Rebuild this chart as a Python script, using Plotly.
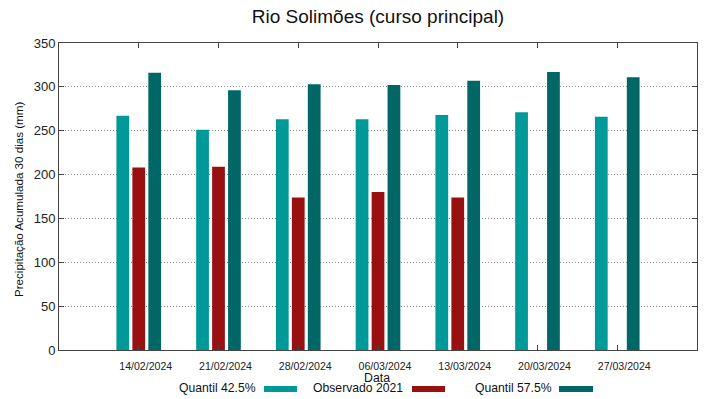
import plotly.graph_objects as go

dates = ["14/02/2024", "21/02/2024", "28/02/2024", "06/03/2024",
         "13/03/2024", "20/03/2024", "27/03/2024"]
q425 = [267, 251, 263, 263, 268, 271, 266]
obs2021 = [208, 209, 174, 180, 174, None, None]
q575 = [316, 296, 303, 302, 307, 317, 311]

names = ["Quantil 42.5%", "Observado 2021", "Quantil 57.5%"]
colors = ["#009999", "#991010", "#006666"]
series = [q425, obs2021, q575]
offsets = [-0.28, -0.08, 0.12]

W, H = 719, 399
L, R, T, B = 59, 22, 43, 49
PW, PH = W - L - R, H - T - B


def px(x):
    return (x - L) / PW


def py(y):
    return (T + PH - y) / PH


xs = list(range(len(dates)))
fig = go.Figure()
for name, col, vals, off in zip(names, colors, series, offsets):
    fig.add_trace(go.Bar(x=xs, y=vals, name=name, width=0.16, offset=off,
                         marker=dict(color=col, line=dict(width=0)),
                         showlegend=False))

fig.update_layout(
    width=W, height=H,
    margin=dict(l=L, r=R, t=T, b=B, autoexpand=False),
    plot_bgcolor="white", paper_bgcolor="white",
    font=dict(family="Liberation Sans, Arial, sans-serif", color="#222"),
    title=dict(text="Rio Solimões (curso principal)", x=0.5, xref="paper",
               xanchor="center", yref="container", y=1 - 16 / H,
               yanchor="middle", font=dict(size=19, color="#111")),
    barmode="overlay",
    xaxis=dict(range=[-1, 7], tickvals=xs, ticktext=dates, automargin=False,
               tickfont=dict(size=10.6), showgrid=False, zeroline=False,
               showline=True, linecolor="#444", linewidth=1, mirror="ticks",
               ticks="inside", ticklen=5, tickcolor="#444",
               ticklabelshift=7, ticklabelstandoff=6),
    yaxis=dict(range=[0, 350], tickvals=[0, 50, 100, 150, 200, 250, 300, 350],
               automargin=False,
               tickfont=dict(size=13), showgrid=True, gridcolor="#888",
               griddash="1px,2px", gridwidth=1, zeroline=False,
               showline=True, linecolor="#444", linewidth=1, mirror="ticks",
               ticks="inside", ticklen=5, tickcolor="#444"),
)

# axis titles placed as in the reference
fig.add_annotation(x=px(377), y=py(378), xref="paper", yref="paper",
                   text="Data", showarrow=False, xanchor="center",
                   yanchor="middle", font=dict(size=12.3, color="#111"))
fig.add_annotation(x=px(18), y=py(200), xref="paper", yref="paper",
                   text="Precipitação Acumulada 30 dias (mm)", textangle=-90,
                   showarrow=False, xanchor="center", yanchor="middle",
                   font=dict(size=11.6, color="#111"))

# custom legend (text followed by swatch)
legend_items = [(256, 264, 297), (403, 412, 445), (552, 559, 593)]
ly = 389
for (tx, sx0, sx1), name, col in zip(legend_items, names, colors):
    fig.add_annotation(x=px(tx), y=py(ly - 1), xref="paper", yref="paper",
                       text=name, showarrow=False, xanchor="right",
                       yanchor="middle", xshift=2,
                       font=dict(size=12.2, color="#111"))
    fig.add_shape(type="rect", xref="paper", yref="paper",
                  x0=px(sx0), x1=px(sx1),
                  y0=py(ly + 3), y1=py(ly - 3),
                  fillcolor=col, line=dict(width=0))

fig.write_html("out.html", config={"displayModeBar": False},
               post_script="document.body.style.margin='0';"
                           "document.body.style.overflow='hidden';")
